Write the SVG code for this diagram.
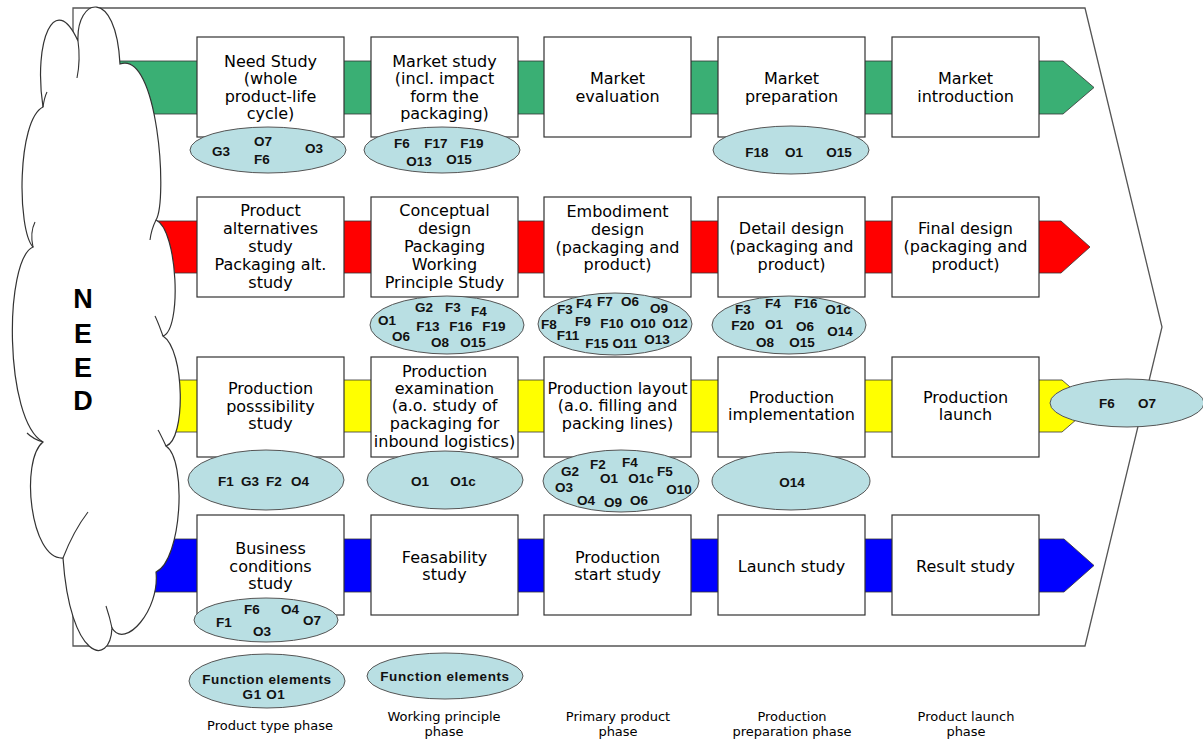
<svg xmlns="http://www.w3.org/2000/svg" width="1203" height="740" viewBox="0 0 1203 740">
<style>
.box{fill:#fff;stroke:#333;stroke-width:1.2}
.ell{fill:#b9dfe3;stroke:#555;stroke-width:1}
.bt{font-family:"DejaVu Sans","Liberation Sans",sans-serif;font-size:16px;fill:#000;text-anchor:middle}
.tk{font-family:"Liberation Sans",Arial,sans-serif;font-size:13.5px;font-weight:bold;fill:#111;text-anchor:middle}
.fe{font-family:"Liberation Sans",Arial,sans-serif;font-size:13.5px;font-weight:bold;fill:#111;text-anchor:middle;letter-spacing:0.6px}
.ph{font-family:"DejaVu Sans","Liberation Sans",sans-serif;font-size:13px;fill:#000;text-anchor:middle}
.band{stroke:#333;stroke-width:0.8}
.cl{fill:#fff;stroke:#333;stroke-width:1.2}
.ci{fill:none;stroke:#333;stroke-width:1.1}
.nd{font-family:"Liberation Sans",Arial,sans-serif;font-size:27px;font-weight:bold;fill:#000;text-anchor:middle}
</style>
<rect width="1203" height="740" fill="#fff"/>
<g id="frame">
<polygon points="73,8 1085,8 1162,327 1085,646 73,646" fill="none" stroke="#555" stroke-width="1.3"/>
</g>
<g id="connectors">
<path class="band" fill="#3aaf74" d="M115 61 H1063 L1094 87.5 L1063 114 H115 Z"/>
<path class="band" fill="#ff0000" d="M115 221 H1061 L1090 247 L1061 273 H115 Z"/>
<path class="band" fill="#ffff00" d="M115 380 H1062 L1092 406 L1062 432 H115 Z"/>
<path class="band" fill="#0000ff" d="M115 539 H1064 L1094 565.5 L1064 592 H115 Z"/>
</g>
<g id="row1">
<g id="need-study"><rect class="box" x="197" y="37" width="147" height="100"/>
<text class="bt" x="270.5" y="66.5">Need Study</text><text class="bt" x="270.5" y="84">(whole</text><text class="bt" x="270.5" y="101.5">product-life</text><text class="bt" x="270.5" y="119">cycle)</text></g>
<g id="market-study"><rect class="box" x="371" y="37" width="147" height="100"/>
<text class="bt" x="444.5" y="66.5">Market study</text><text class="bt" x="444.5" y="84">(incl. impact</text><text class="bt" x="444.5" y="101.5">form the</text><text class="bt" x="444.5" y="119">packaging)</text></g>
<g id="market-evaluation"><rect class="box" x="544" y="37" width="147" height="100"/>
<text class="bt" x="617.5" y="84">Market</text><text class="bt" x="617.5" y="101.5">evaluation</text></g>
<g id="market-preparation"><rect class="box" x="718" y="37" width="147" height="100"/>
<text class="bt" x="791.5" y="84">Market</text><text class="bt" x="791.5" y="101.5">preparation</text></g>
<g id="market-introduction"><rect class="box" x="892" y="37" width="147" height="100"/>
<text class="bt" x="965.5" y="84">Market</text><text class="bt" x="965.5" y="101.5">introduction</text></g>
</g>
<g id="row2">
<g id="product-alternatives"><rect class="box" x="197" y="197" width="147" height="100"/>
<text class="bt" x="270.5" y="216">Product</text><text class="bt" x="270.5" y="234">alternatives</text><text class="bt" x="270.5" y="252">study</text><text class="bt" x="270.5" y="270">Packaging alt.</text><text class="bt" x="270.5" y="287.5">study</text></g>
<g id="conceptual-design"><rect class="box" x="371" y="197" width="147" height="100"/>
<text class="bt" x="444.5" y="216">Conceptual</text><text class="bt" x="444.5" y="234">design</text><text class="bt" x="444.5" y="252">Packaging</text><text class="bt" x="444.5" y="270">Working</text><text class="bt" x="444.5" y="287.5">Principle Study</text></g>
<g id="embodiment-design"><rect class="box" x="544" y="197" width="147" height="100"/>
<text class="bt" x="617.5" y="217">Embodiment</text><text class="bt" x="617.5" y="235">design</text><text class="bt" x="617.5" y="252.5">(packaging and</text><text class="bt" x="617.5" y="270">product)</text></g>
<g id="detail-design"><rect class="box" x="718" y="197" width="147" height="100"/>
<text class="bt" x="791.5" y="234">Detail design</text><text class="bt" x="791.5" y="252">(packaging and</text><text class="bt" x="791.5" y="270">product)</text></g>
<g id="final-design"><rect class="box" x="892" y="197" width="147" height="100"/>
<text class="bt" x="965.5" y="234">Final design</text><text class="bt" x="965.5" y="252">(packaging and</text><text class="bt" x="965.5" y="270">product)</text></g>
</g>
<g id="row3">
<g id="production-possibility"><rect class="box" x="197" y="357" width="147" height="100"/>
<text class="bt" x="270.5" y="394">Production</text><text class="bt" x="270.5" y="412">posssibility</text><text class="bt" x="270.5" y="429">study</text></g>
<g id="production-examination"><rect class="box" x="371" y="357" width="147" height="100"/>
<text class="bt" x="444.5" y="377">Production</text><text class="bt" x="444.5" y="394">examination</text><text class="bt" x="444.5" y="411">(a.o. study of</text><text class="bt" x="444.5" y="429">packaging for</text><text class="bt" x="444.5" y="447">inbound logistics)</text></g>
<g id="production-layout"><rect class="box" x="544" y="357" width="147" height="100"/>
<text class="bt" x="617.5" y="394">Production layout</text><text class="bt" x="617.5" y="411">(a.o. filling and</text><text class="bt" x="617.5" y="429">packing lines)</text></g>
<g id="production-implementation"><rect class="box" x="718" y="357" width="147" height="100"/>
<text class="bt" x="791.5" y="403">Production</text><text class="bt" x="791.5" y="420">implementation</text></g>
<g id="production-launch"><rect class="box" x="892" y="357" width="147" height="100"/>
<text class="bt" x="965.5" y="403">Production</text><text class="bt" x="965.5" y="420">launch</text></g>
</g>
<g id="row4">
<g id="business-conditions"><rect class="box" x="197" y="515" width="147" height="100"/>
<text class="bt" x="270.5" y="554">Business</text><text class="bt" x="270.5" y="572">conditions</text><text class="bt" x="270.5" y="589">study</text></g>
<g id="feasability-study"><rect class="box" x="371" y="515" width="147" height="100"/>
<text class="bt" x="444.5" y="563">Feasability</text><text class="bt" x="444.5" y="580">study</text></g>
<g id="production-start"><rect class="box" x="544" y="515" width="147" height="100"/>
<text class="bt" x="617.5" y="563">Production</text><text class="bt" x="617.5" y="580">start study</text></g>
<g id="launch-study"><rect class="box" x="718" y="515" width="147" height="100"/>
<text class="bt" x="791.5" y="572">Launch study</text></g>
<g id="result-study"><rect class="box" x="892" y="515" width="147" height="100"/>
<text class="bt" x="965.5" y="572">Result study</text></g>
</g>
<g id="elements">
<g id="e-r1c1"><ellipse class="ell" cx="268" cy="150" rx="78" ry="23"/>
<text class="tk" x="221" y="156">G3</text><text class="tk" x="263" y="146">O7</text><text class="tk" x="262" y="164">F6</text><text class="tk" x="314" y="153">O3</text></g>
<g id="e-r1c2"><ellipse class="ell" cx="442" cy="150" rx="78" ry="23"/>
<text class="tk" x="402" y="148">F6</text><text class="tk" x="436" y="148">F17</text><text class="tk" x="472" y="148">F19</text><text class="tk" x="419" y="166">O13</text><text class="tk" x="459" y="164">O15</text></g>
<g id="e-r1c4"><ellipse class="ell" cx="791" cy="150" rx="78" ry="24"/>
<text class="tk" x="757" y="157">F18</text><text class="tk" x="794" y="157">O1</text><text class="tk" x="839" y="157">O15</text></g>
<g id="e-r2c2"><ellipse class="ell" cx="447" cy="325" rx="77" ry="29"/>
<text class="tk" x="424" y="312">G2</text><text class="tk" x="453" y="312">F3</text><text class="tk" x="479" y="316">F4</text>
<text class="tk" x="387" y="325">O1</text><text class="tk" x="428" y="331">F13</text><text class="tk" x="461" y="331">F16</text><text class="tk" x="494" y="331">F19</text>
<text class="tk" x="401" y="341">O6</text><text class="tk" x="440" y="347">O8</text><text class="tk" x="473" y="347">O15</text></g>
<g id="e-r2c3"><ellipse class="ell" cx="615" cy="324" rx="77" ry="31"/>
<text class="tk" x="565" y="314">F3</text><text class="tk" x="584" y="308">F4</text><text class="tk" x="605" y="306">F7</text><text class="tk" x="630" y="306">O6</text><text class="tk" x="659" y="313">O9</text>
<text class="tk" x="549" y="329">F8</text><text class="tk" x="583" y="326">F9</text><text class="tk" x="612" y="328">F10</text><text class="tk" x="643" y="328">O10</text><text class="tk" x="675" y="328">O12</text>
<text class="tk" x="568" y="340">F11</text><text class="tk" x="597" y="348">F15</text><text class="tk" x="625" y="348">O11</text><text class="tk" x="657" y="344">O13</text></g>
<g id="e-r2c4"><ellipse class="ell" cx="789" cy="325" rx="77" ry="29"/>
<text class="tk" x="743" y="314">F3</text><text class="tk" x="773" y="308">F4</text><text class="tk" x="806" y="308">F16</text><text class="tk" x="838" y="314">O1c</text>
<text class="tk" x="743" y="330">F20</text><text class="tk" x="774" y="329">O1</text><text class="tk" x="805" y="331">O6</text><text class="tk" x="840" y="336">O14</text>
<text class="tk" x="765" y="347">O8</text><text class="tk" x="802" y="347">O15</text></g>
<g id="e-r3c1"><ellipse class="ell" cx="266" cy="480" rx="78" ry="30"/>
<text class="tk" x="226" y="486">F1</text><text class="tk" x="250" y="486">G3</text><text class="tk" x="274" y="486">F2</text><text class="tk" x="300" y="486">O4</text></g>
<g id="e-r3c2"><ellipse class="ell" cx="445" cy="480" rx="78" ry="29"/>
<text class="tk" x="420" y="486">O1</text><text class="tk" x="463" y="486">O1c</text></g>
<g id="e-r3c3"><ellipse class="ell" cx="621" cy="481" rx="78" ry="31"/>
<text class="tk" x="570" y="476">G2</text><text class="tk" x="598" y="469">F2</text><text class="tk" x="630" y="467">F4</text><text class="tk" x="665" y="476">F5</text>
<text class="tk" x="609" y="483">O1</text><text class="tk" x="641" y="483">O1c</text>
<text class="tk" x="564" y="492">O3</text><text class="tk" x="679" y="494">O10</text>
<text class="tk" x="586" y="505">O4</text><text class="tk" x="613" y="507">O9</text><text class="tk" x="639" y="505">O6</text></g>
<g id="e-r3c4"><ellipse class="ell" cx="791" cy="481" rx="79" ry="29"/>
<text class="tk" x="792" y="487">O14</text></g>
<g id="e-r3-right"><ellipse class="ell" cx="1127" cy="403" rx="77" ry="24"/>
<text class="tk" x="1107" y="408">F6</text><text class="tk" x="1147" y="408">O7</text></g>
<g id="e-r4c1"><ellipse class="ell" cx="266" cy="620" rx="72" ry="22"/>
<text class="tk" x="224" y="627">F1</text><text class="tk" x="252" y="614">F6</text><text class="tk" x="290" y="614">O4</text><text class="tk" x="312" y="625">O7</text><text class="tk" x="262" y="636">O3</text></g>
<g id="fe-1"><ellipse class="ell" cx="267" cy="681" rx="78" ry="27"/>
<text class="fe" x="267" y="684">Function elements</text><text class="fe" x="264" y="699">G1  O1</text></g>
<g id="fe-2"><ellipse class="ell" cx="445" cy="676" rx="78" ry="23"/>
<text class="fe" x="445" y="681">Function elements</text></g>
</g>
<g id="phases">
<text class="ph" x="270" y="730">Product type phase</text>
<text class="ph" x="444" y="721">Working principle</text><text class="ph" x="444" y="736">phase</text>
<text class="ph" x="618" y="721">Primary product</text><text class="ph" x="618" y="736">phase</text>
<text class="ph" x="792" y="721">Production</text><text class="ph" x="792" y="736">preparation phase</text>
<text class="ph" x="966" y="721">Product launch</text><text class="ph" x="966" y="736">phase</text>
</g>
<g id="need-cloud">
<path class="cl" d="M43 107 C33 40 55 -10 78 41 C76 -2 116 -14 120 64 C158 50 168 200 156 220 C178 230 182 330 163 336 C185 350 186 440 166 446 C187 460 182 560 156 572 C160 610 125 650 112 628 C110 668 70 660 63 558 C30 560 20 460 43 442 C4 420 4 260 33 247 C17 230 17 120 43 107 Z"/>
<path class="ci" d="M78 41 C80 55 79 68 77 78"/>
<path class="ci" d="M156 220 C153 226 151 232 150 240"/>
<path class="ci" d="M163 336 C160 328 158 322 155 316"/>
<path class="ci" d="M166 446 C163 440 161 435 158 430"/>
<path class="ci" d="M112 628 C110 618 108 612 106 606"/>
<path class="ci" d="M63 558 C70 540 78 525 88 512"/>
<path class="ci" d="M43 442 C36 440 31 437 27 433"/>
<path class="ci" d="M33 247 C31 238 31 230 35 222"/>
<path class="ci" d="M43 107 C44 100 45 96 47 92"/>
<text class="nd" x="83" y="308">N</text>
<text class="nd" x="83" y="343">E</text>
<text class="nd" x="83" y="377">E</text>
<text class="nd" x="83" y="410">D</text>
</g>
</svg>
